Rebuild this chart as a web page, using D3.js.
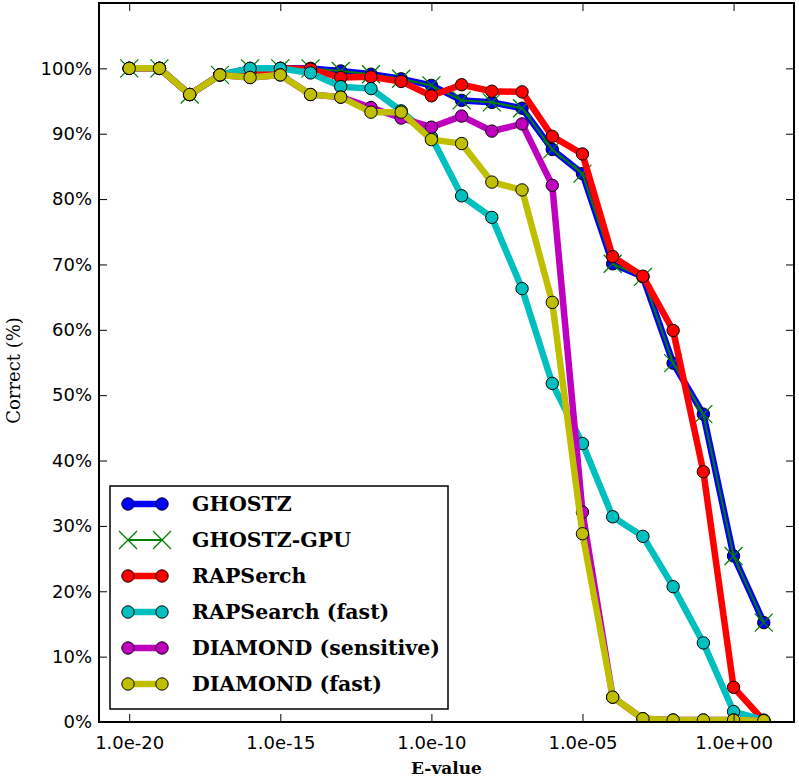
<!DOCTYPE html>
<html>
<head>
<meta charset="utf-8">
<script src="https://cdn.jsdelivr.net/npm/d3@7"></script>
<style>
  html, body { margin: 0; padding: 0; background: #fff; }
  svg { display: block; }
</style>
</head>
<body>
<svg id="chart" width="799" height="779"></svg>
<script>
// ---- Data ----
const evalues = [1e-20, 1e-19, 1e-18, 1e-17, 1e-16, 1e-15, 1e-14, 1e-13, 1e-12, 1e-11, 1e-10,
                 1e-9, 1e-8, 1e-7, 1e-6, 1e-5, 1e-4, 1e-3, 1e-2, 1e-1, 1e0, 1e1];

const ghostz        = [100, 100, 96, 99, 100, 100, 100, 99.6, 99.1, 98.4, 97.4, 95.1, 94.8, 93.9, 87.6, 83.9, 70.1, 68.1, 54.9, 47.1, 25.4, 15.2];
const ghostzGpu     = [100, 100, 96, 99, 100, 100, 100, 99.6, 99.1, 98.4, 97.4, 95.1, 94.8, 93.9, 87.6, 83.9, 70.1, 68.1, 54.9, 47.1, 25.4, 15.2];
const rapserch      = [100, 100, 96, 99, 99.3, 100, 99.9, 98.6, 98.7, 98.0, 95.8, 97.5, 96.5, 96.4, 89.6, 86.9, 71.2, 68.2, 59.9, 38.3, 5.3, 0.2];
const rapsearchFast = [100, 100, 96, 99, 100, 100, 99.3, 97.2, 96.9, 93.5, 89.5, 80.5, 77.2, 66.3, 51.8, 42.6, 31.4, 28.4, 20.7, 12.1, 1.6, 0.3];
const diamondSens   = [100, 100, 96, 99, 98.6, 99.0, 96.0, 95.6, 94.0, 92.4, 91.0, 92.7, 90.4, 91.5, 82.1, 32.1, 3.8, 0.5, 0.3, 0.3, 0.3, 0.2];
const diamondFast   = [100, 100, 96, 99, 98.6, 99.0, 96.0, 95.6, 93.3, 93.3, 89.1, 88.5, 82.6, 81.4, 64.2, 28.8, 3.8, 0.5, 0.3, 0.3, 0.3, 0.2];

const seriesNames = ["GHOSTZ", "GHOSTZ-GPU", "RAPSerch", "RAPSearch (fast)", "DIAMOND (sensitive)", "DIAMOND (fast)"];
const seriesValues = [ghostz, ghostzGpu, rapserch, rapsearchFast, diamondSens, diamondFast];
const seriesColors = ["#0000ff", "#008000", "#ff0000", "#00bfbf", "#bf00bf", "#bfbf00"];
const seriesMarkers = ["circle", "x", "circle", "circle", "circle", "circle"];

const xTickValues = [1e-20, 1e-15, 1e-10, 1e-5, 1e0];
const xTickLabels = ["1.0e-20", "1.0e-15", "1.0e-10", "1.0e-05", "1.0e+00"];
const yTickValues = [0, 10, 20, 30, 40, 50, 60, 70, 80, 90, 100];

// ---- Layout ----
const svg = d3.select("#chart");
const L = 99, R = 794, T = 3, B = 722;

const x = d3.scaleLog().domain([1e-21, 1e2]).range([L, R]);
const y = d3.scaleLinear().domain([0, 110]).range([B, T]);

const thick = 6.5, thin = 2, rad = 6.2, xs = 9;

svg.append("defs").append("clipPath").attr("id", "clip")
  .append("rect").attr("x", L).attr("y", T).attr("width", R - L).attr("height", B - T);

const plot = svg.append("g").attr("clip-path", "url(#clip)");

function drawX(g, cx, cy, color) {
  g.append("path")
    .attr("d", `M${cx - xs},${cy - xs}L${cx + xs},${cy + xs}M${cx - xs},${cy + xs}L${cx + xs},${cy - xs}`)
    .attr("stroke", color).attr("stroke-width", 1.3).attr("fill", "none");
}

seriesValues.forEach((vals, i) => {
  const color = seriesColors[i];
  const pts = evalues.map((e, j) => [x(e), y(vals[j])]);
  const g = plot.append("g");
  g.append("path")
    .attr("d", d3.line()(pts))
    .attr("fill", "none")
    .attr("stroke", color)
    .attr("stroke-width", seriesMarkers[i] === "x" ? thin : thick)
    .attr("stroke-linejoin", "round")
    .attr("stroke-linecap", "butt");
  pts.forEach(p => {
    if (seriesMarkers[i] === "x") drawX(g, p[0], p[1], color);
    else g.append("circle").attr("cx", p[0]).attr("cy", p[1]).attr("r", rad)
      .attr("fill", color).attr("stroke", "#000").attr("stroke-width", 1);
  });
});

// ---- Axes (ticks inward, all four sides) ----
const tickLen = 8;
const axBottom = d3.axisBottom(x).tickValues(xTickValues).tickFormat((d, i) => xTickLabels[i])
  .tickSizeInner(-tickLen).tickSizeOuter(0).tickPadding(14);
const axTop = d3.axisTop(x).tickValues(xTickValues).tickFormat("").tickSizeInner(-tickLen).tickSizeOuter(0);
const axLeft = d3.axisLeft(y).tickValues(yTickValues).tickFormat(d => d + "%")
  .tickSizeInner(-tickLen).tickSizeOuter(0).tickPadding(7);
const axRight = d3.axisRight(y).tickValues(yTickValues).tickFormat("").tickSizeInner(-tickLen).tickSizeOuter(0);

function styleAxis(g) {
  g.select(".domain").remove();
  g.selectAll(".tick line").attr("stroke", "#000").attr("stroke-width", 1);
  g.selectAll(".tick text").attr("fill", "#000")
    .style("font-family", "'DejaVu Sans', sans-serif").style("font-size", "18px");
}
svg.append("g").attr("transform", `translate(0,${B})`).call(axBottom).call(styleAxis);
svg.append("g").attr("transform", `translate(0,${T})`).call(axTop).call(styleAxis);
svg.append("g").attr("transform", `translate(${L},0)`).call(axLeft).call(styleAxis);
svg.append("g").attr("transform", `translate(${R},0)`).call(axRight).call(styleAxis);

svg.append("rect").attr("x", L).attr("y", T).attr("width", R - L).attr("height", B - T)
  .attr("fill", "none").attr("stroke", "#000").attr("stroke-width", 2);

// ---- Axis labels ----
svg.append("text").attr("x", (L + R) / 2).attr("y", 774).attr("text-anchor", "middle")
  .style("font-family", "'DejaVu Serif', serif").style("font-weight", "bold").style("font-size", "17px")
  .text("E-value");
svg.append("text").attr("transform", `translate(20,${(T + B) / 2 + 8}) rotate(-90)`).attr("text-anchor", "middle")
  .style("font-family", "'DejaVu Serif', serif").style("font-size", "18px")
  .text("Correct (%)");

// ---- Legend ----
const leg = svg.append("g");
leg.append("rect").attr("x", 110).attr("y", 486).attr("width", 338).attr("height", 223)
  .attr("fill", "#fff").attr("stroke", "#000").attr("stroke-width", 1.5);
const rowY = [504, 540, 576, 612, 648, 684];
seriesNames.forEach((name, i) => {
  const cy = rowY[i], color = seriesColors[i];
  const isX = seriesMarkers[i] === "x";
  leg.append("line").attr("x1", 128).attr("x2", 162).attr("y1", cy).attr("y2", cy)
    .attr("stroke", color).attr("stroke-width", isX ? thin : thick);
  [128, 162].forEach(cx => {
    if (isX) drawX(leg, cx, cy, color);
    else leg.append("circle").attr("cx", cx).attr("cy", cy).attr("r", rad)
      .attr("fill", color).attr("stroke", "#000").attr("stroke-width", 1);
  });
  leg.append("text").attr("x", 192).attr("y", cy).attr("dy", "0.36em")
    .style("font-family", "'DejaVu Serif', serif").style("font-weight", "bold").style("font-size", "20.5px")
    .text(name);
});
</script>
</body>
</html>
